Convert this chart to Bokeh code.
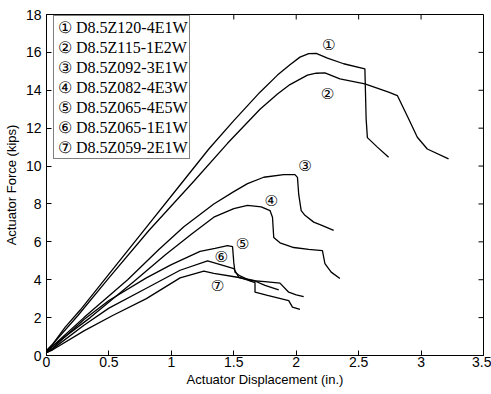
from bokeh.plotting import figure
from bokeh.models import Legend, LegendItem, FixedTicker, Range1d
from bokeh.core.properties import value
from bokeh.embed import file_html
from bokeh.resources import INLINE

# ---- data ----
names = ["D8.5Z120-4E1W", "D8.5Z115-1E2W", "D8.5Z092-3E1W", "D8.5Z082-4E3W",
         "D8.5Z065-4E5W", "D8.5Z065-1E1W", "D8.5Z059-2E1W"]
marks = ["\u2460", "\u2461", "\u2462", "\u2463", "\u2464", "\u2465", "\u2466"]

x1 = [0, 0.05, 0.15, 0.27, 0.5, 0.78, 1.07, 1.3, 1.5, 1.71, 1.85, 1.95, 2.03, 2.1, 2.16, 2.25, 2.38, 2.55, 2.56, 2.57, 2.65, 2.74]
y1 = [0.25, 0.6, 1.5, 2.4, 4.3, 6.6, 9.0, 10.9, 12.4, 13.9, 14.8, 15.35, 15.75, 15.93, 15.95, 15.7, 15.4, 15.13, 12.5, 11.5, 11.0, 10.46]

x2 = [0, 0.05, 0.25, 0.5, 0.82, 1.18, 1.45, 1.71, 1.85, 1.95, 2.09, 2.16, 2.23, 2.35, 2.55, 2.74, 2.81, 2.9, 2.97, 3.05, 3.22]
y2 = [0.25, 0.6, 2.1, 4.1, 6.6, 9.2, 11.2, 13.0, 13.8, 14.3, 14.8, 14.9, 14.92, 14.6, 14.34, 13.9, 13.72, 12.5, 11.52, 10.9, 10.38]

x3 = [0, 0.05, 0.3, 0.65, 0.9, 1.1, 1.34, 1.5, 1.61, 1.74, 1.9, 1.99, 2.01, 2.02, 2.04, 2.07, 2.14, 2.21, 2.30]
y3 = [0.2, 0.5, 2.0, 4.0, 5.6, 6.8, 8.0, 8.65, 9.07, 9.41, 9.55, 9.55, 9.4, 8.5, 7.65, 7.4, 7.04, 6.86, 6.6]

x4 = [0, 0.05, 0.35, 0.7, 0.95, 1.16, 1.34, 1.5, 1.61, 1.72, 1.79, 1.81, 1.82, 1.87, 1.98, 2.1, 2.21, 2.23, 2.28, 2.35]
y4 = [0.2, 0.5, 2.0, 3.9, 5.3, 6.4, 7.3, 7.75, 7.92, 7.85, 7.65, 7.3, 6.23, 5.95, 5.7, 5.6, 5.54, 4.85, 4.4, 4.06]

x5 = [0, 0.05, 0.3, 0.5, 0.8, 1.0, 1.23, 1.35, 1.45, 1.49, 1.5, 1.51, 1.55, 1.63, 1.75, 1.87, 1.94, 2.0, 2.06]
y5 = [0.15, 0.4, 1.9, 2.9, 4.1, 4.8, 5.5, 5.65, 5.8, 5.75, 4.9, 4.4, 4.2, 3.96, 3.9, 3.82, 3.34, 3.2, 3.11]

x6 = [0, 0.05, 0.3, 0.5, 0.8, 1.07, 1.29, 1.42, 1.5, 1.54, 1.6, 1.67, 1.67, 1.77, 1.94, 1.97, 2.03]
y6 = [0.15, 0.35, 1.6, 2.5, 3.55, 4.5, 5.0, 4.75, 4.59, 4.13, 4.0, 3.85, 3.34, 3.17, 2.9, 2.55, 2.43]

x7 = [0, 0.05, 0.3, 0.53, 0.8, 1.07, 1.26, 1.34, 1.53, 1.66, 1.75, 1.86]
y7 = [0.15, 0.3, 1.3, 2.11, 3.0, 4.1, 4.45, 4.34, 4.13, 3.96, 3.7, 3.46]

lab_x = [2.26, 2.25, 2.07, 1.80, 1.57, 1.40, 1.37]
lab_y = [16.4, 13.8, 9.99, 8.18, 5.86, 5.22, 3.69]

x_ticks = [0, 0.5, 1, 1.5, 2, 2.5, 3, 3.5]
x_tick_labels = ["0", "0.5", "1", "1.5", "2", "2.5", "3", "3.5"]
y_ticks = [0, 2, 4, 6, 8, 10, 12, 14, 16, 18]
y_tick_labels = ["0", "2", "4", "6", "8", "10", "12", "14", "16", "18"]

xs = [x1, x2, x3, x4, x5, x6, x7]
ys = [y1, y2, y3, y4, y5, y6, y7]

W, H = 491, 394
BL, BR, BT, BB = 46, 8, 14, 39
TICK_PX = 5

p = figure(width=W, height=H, output_backend="svg", toolbar_location=None,
           x_range=Range1d(x_ticks[0], x_ticks[-1]), y_range=Range1d(y_ticks[0], y_ticks[-1]),
           min_border_left=BL, min_border_right=BR, min_border_top=BT, min_border_bottom=BB)
p.grid.visible = False
p.outline_line_color = "black"
p.background_fill_color = "white"
p.border_fill_color = "white"

renderers = []
for xv, yv in zip(xs, ys):
    r = p.line(xv, yv, line_color="black", line_width=1.3)
    renderers.append(r)

p.text(x=lab_x, y=lab_y, text=marks, text_align="center", text_baseline="middle",
       text_font=value("DejaVu Sans"), text_font_size="15px", text_color="black")

# inward ticks on the top and right edges of the box (MATLAB style)
x_lo, x_hi = x_ticks[0], x_ticks[-1]
y_lo, y_hi = y_ticks[0], y_ticks[-1]
dy = TICK_PX * (y_hi - y_lo) / (H - BT - BB)
dx = TICK_PX * (x_hi - x_lo) / (W - BL - BR)
p.segment(x0=x_ticks, y0=[y_hi] * len(x_ticks), x1=x_ticks, y1=[y_hi - dy] * len(x_ticks),
          line_color="black", line_width=1)
p.segment(x0=[x_hi] * len(y_ticks), y0=y_ticks, x1=[x_hi - dx] * len(y_ticks), y1=y_ticks,
          line_color="black", line_width=1)

for ax in (p.xaxis[0], p.yaxis[0]):
    ax.major_tick_in = TICK_PX
    ax.major_tick_out = 0
    ax.minor_tick_line_color = None
    ax.axis_line_color = "black"
    ax.major_tick_line_color = "black"
    ax.major_label_text_font = "Liberation Sans"
    ax.major_label_text_font_size = "14px"
    ax.major_label_text_color = "black"
    ax.axis_label_text_font = "Liberation Sans"
    ax.axis_label_text_font_size = "13px"
    ax.axis_label_text_font_style = "normal"
    ax.axis_label_text_color = "black"

p.xaxis[0].ticker = FixedTicker(ticks=x_ticks)
p.xaxis[0].major_label_overrides = dict(zip(x_ticks, x_tick_labels))
p.yaxis[0].ticker = FixedTicker(ticks=y_ticks)
p.yaxis[0].major_label_overrides = dict(zip(y_ticks, y_tick_labels))
p.xaxis[0].axis_label = "Actuator Displacement (in.)"
p.yaxis[0].axis_label = "Actuator Force (kips)"
p.xaxis[0].major_label_standoff = 1
p.xaxis[0].axis_label_standoff = 2
p.yaxis[0].major_label_standoff = 5
p.yaxis[0].axis_label_standoff = 4

items = [LegendItem(label=m + " " + n, renderers=[r]) for m, n, r in zip(marks, names, renderers)]
legend = Legend(items=items, location=(7, 196), glyph_width=0, glyph_height=20,
                label_standoff=3, label_height=20, spacing=0, padding=1,
                label_text_font="Liberation Serif", label_text_font_size="16px",
                label_text_color="black", border_line_color="black", border_line_width=1,
                background_fill_alpha=1, margin=0, click_policy="none")
p.add_layout(legend, "center")

open("out.html", "w").write(file_html(p, INLINE))
